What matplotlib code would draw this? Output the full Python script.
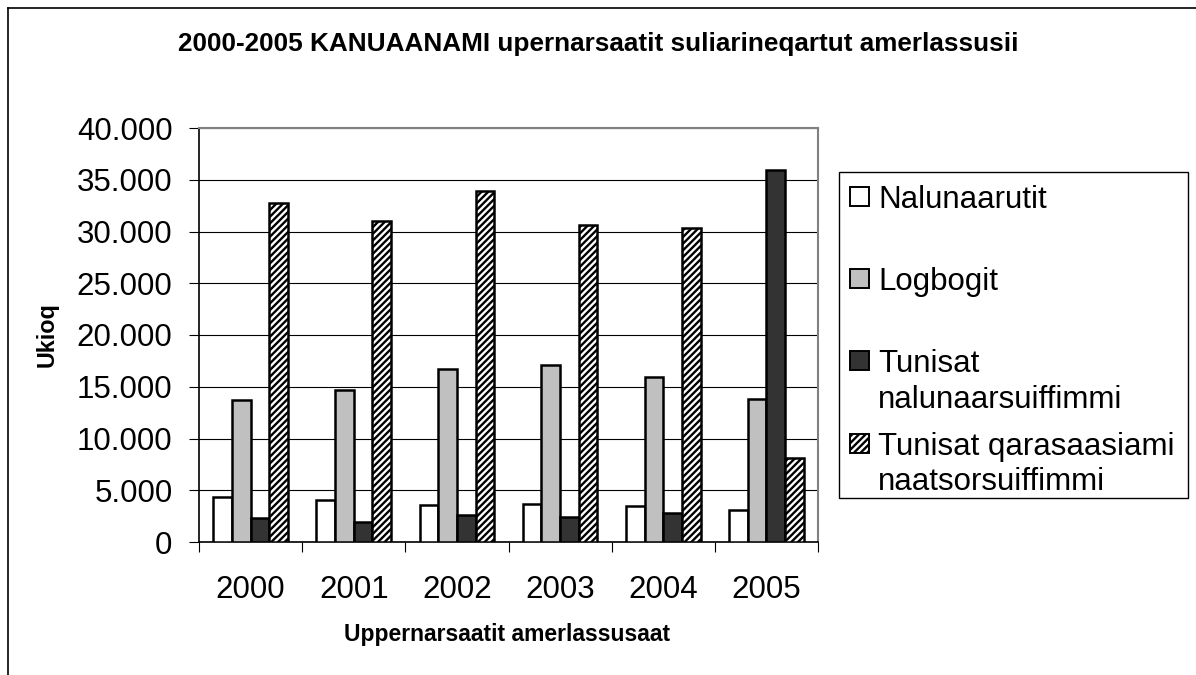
import matplotlib
matplotlib.use("Agg")
import matplotlib.pyplot as plt
import numpy as np
from matplotlib.patches import Rectangle
from matplotlib.lines import Line2D
from matplotlib.ticker import FuncFormatter, FixedLocator

plt.rcParams['font.family'] = ['Liberation Sans', 'DejaVu Sans']
plt.rcParams['hatch.linewidth'] = 1.7

years = ["2000", "2001", "2002", "2003", "2004", "2005"]
series_names = ["Nalunaarutit", "Logbogit", "Tunisat\nnalunaarsuiffimmi",
                "Tunisat qarasaasiami\nnaatsorsuiffimmi"]
nalunaarutit = [4300, 4100, 3600, 3650, 3500, 3100]
logbogit = [13700, 14700, 16700, 17100, 15900, 13800]
tunisat_nalunaarsuiffimmi = [2300, 1900, 2600, 2450, 2800, 35900]
tunisat_qarasaasiami = [32800, 31000, 33900, 30600, 30300, 8100]

title = "2000-2005 KANUAANAMI upernarsaatit suliarineqartut amerlassusii"
xlabel = "Uppernarsaatit amerlassusaat"
ylabel = "Ukioq"

W, H = 1196, 675
fig = plt.figure(figsize=(W / 100, H / 100), dpi=100)

def fx(px):
    return px / W

def fy(py):
    return 1 - py / H

ax_left, ax_right, ax_top, ax_bottom = 199, 818, 128, 542
ax = fig.add_axes([fx(ax_left), fy(ax_bottom), fx(ax_right - ax_left), (ax_bottom - ax_top) / H])

styles = [
    dict(facecolor="white", hatch=None),
    dict(facecolor="#C0C0C0", hatch=None),
    dict(facecolor="#333333", hatch=None),
    dict(facecolor="white", hatch="/////"),
]
data = [nalunaarutit, logbogit, tunisat_nalunaarsuiffimmi, tunisat_qarasaasiami]

x = np.arange(len(years))
bw = 0.181
for i, (vals, st) in enumerate(zip(data, styles)):
    offs = (i - 1.5) * bw
    ax.bar(x + offs, vals, width=bw, facecolor=st["facecolor"], edgecolor="black",
           linewidth=1.8, hatch=st["hatch"], zorder=3)

ax.set_xlim(-0.5, len(years) - 0.5)
ax.set_ylim(0, 40000)
ax.set_yticks(np.arange(0, 40001, 5000))
ax.yaxis.set_major_formatter(FuncFormatter(lambda v, p: f"{int(v):,}".replace(",", ".")))
ax.grid(axis="y", color="black", linewidth=0.8, zorder=0)
ax.set_axisbelow(True)

# x ticks: boundaries as major (no labels), centers as minor with labels
ax.xaxis.set_major_locator(FixedLocator(np.arange(-0.5, len(years), 1.0)))
ax.set_xticklabels([""] * (len(years) + 1))
ax.xaxis.set_minor_locator(FixedLocator(x))
ax.set_xticks(x, minor=True)
ax.set_xticklabels(years, minor=True)
ax.tick_params(axis="x", which="major", direction="out", length=7, width=0.8, color="black")
ax.tick_params(axis="x", which="minor", length=0, pad=24, labelsize=22.5)
ax.tick_params(axis="y", direction="out", length=7, width=0.8, pad=12, labelsize=22.5)

for s in ["left", "bottom"]:
    ax.spines[s].set_color("black")
    ax.spines[s].set_linewidth(1.2)
for s in ["top", "right"]:
    ax.spines[s].set_color("#808080")
    ax.spines[s].set_linewidth(1.5)

fig.text(0.5, fy(44.5), title, ha="center", va="center", fontsize=18.85, fontweight="bold")
fig.text(fx(507), fy(634), xlabel, ha="center", va="center", fontsize=16.5, fontweight="bold")
fig.text(fx(47), fy(335), ylabel, ha="center", va="center", fontsize=16.8, fontweight="bold",
         rotation=90)

# outer border (left and top visible)
fig.add_artist(Line2D([fx(7.5), fx(7.5)], [0, fy(7.5)], color="black", linewidth=1.2))
fig.add_artist(Line2D([fx(7.5), 1], [fy(7.5), fy(7.5)], color="black", linewidth=1.2))

# legend
fig.add_artist(Rectangle((fx(839), fy(498)), fx(1188 - 839), (498 - 172) / H,
                         facecolor="white", edgecolor="black", linewidth=1.0))
leg_y = [196, 278, 360, 443]
line_gap = 36
for name, st, yy in zip(series_names, styles, leg_y):
    fig.add_artist(Rectangle((fx(850), fy(yy + 9.5)), fx(19), 19 / H,
                             facecolor=st["facecolor"], edgecolor="black", linewidth=1.4,
                             hatch=("/////" if st["hatch"] else None)))
    for j, line in enumerate(name.split("\n")):
        fig.text(fx(878), fy(yy + j * line_gap), line, ha="left", va="center_baseline",
                 fontsize=22.5)

fig.savefig("out.png", dpi=100)
